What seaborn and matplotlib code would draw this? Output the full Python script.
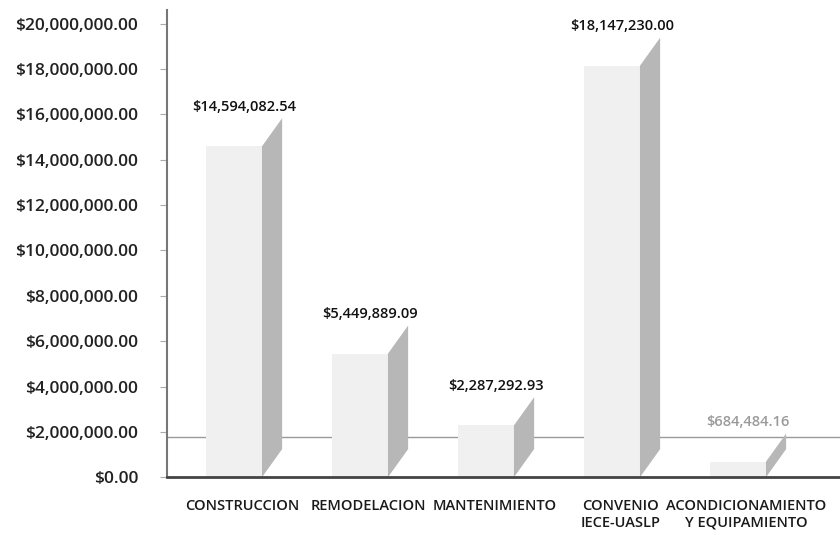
import pandas as pd
import matplotlib.pyplot as plt
import matplotlib.transforms as mtransforms
import seaborn as sns
from matplotlib.patches import Polygon
from matplotlib.ticker import FuncFormatter

# === Data ===
categories = ["CONSTRUCCION", "REMODELACION", "MANTENIMIENTO",
              "CONVENIO\nIECE-UASLP", "ACONDICIONAMIENTO\nY EQUIPAMIENTO"]
amounts = [14594082.54, 5449889.09, 2287292.93, 18147230.00, 684484.16]
amount_labels = ["$14,594,082.54", "$5,449,889.09", "$2,287,292.93",
                 "$18,147,230.00", "$684,484.16"]
label_colors = ["#111111", "#111111", "#111111", "#111111", "#9a9a9a"]
yticks = list(range(0, 20000001, 2000000))

df = pd.DataFrame({"categoria": categories, "monto": amounts})

# === Setup ===
sns.set_style("white")
plt.rcParams["font.family"] = ["Open Sans", "DejaVu Sans"]

fig = plt.figure(figsize=(8.4, 5.35), dpi=100)
ax = fig.add_axes([0.199, 0.108, 0.801, 0.873])

FRONT = "#f0f0f0"
SIDE = "#b7b7b7"
depth_x = 0.16        # fake 3D depth, category units
depth_y = 1.24e6      # fake 3D depth, value units

# back floor line
ax.axhline(1.77e6, color="#9a9a9a", lw=1.0, zorder=0)

sns.barplot(data=df, x="categoria", y="monto", color=FRONT, saturation=1,
            width=0.445, ax=ax, zorder=2, linewidth=0)

# side faces of the bars
for bar in ax.patches:
    x1 = bar.get_x() + bar.get_width()
    h = bar.get_height()
    side = Polygon([(x1, 0), (x1, h), (x1 + depth_x, h + depth_y),
                    (x1 + depth_x, depth_y)], closed=True,
                   facecolor=SIDE, edgecolor="none", zorder=2)
    ax.add_patch(side)

# value labels
for bar, txt, c in zip(list(ax.patches)[:len(amounts)], amount_labels, label_colors):
    xc = bar.get_x() + (bar.get_width() + depth_x) / 2
    ax.annotate(txt, (xc, bar.get_height() + depth_y), xytext=(0, 3),
                textcoords="offset points", ha="center", va="bottom",
                fontsize=10.5, fontweight="semibold", color=c)

ax.set_xlim(-0.53, 4.81)
ax.set_ylim(0, 20.6e6)
ax.set_yticks(yticks)
ax.yaxis.set_major_formatter(FuncFormatter(lambda v, p: f"${v:,.2f}"))
ax.set_xlabel("")
ax.set_ylabel("")

ax.tick_params(axis="y", length=5, color="#aaaaaa", pad=16, labelsize=12.5,
               labelcolor="#222222", left=True)
ax.tick_params(axis="x", length=0, pad=16, labelsize=10.5, labelcolor="#1a1a1a")
for lab in ax.get_yticklabels():
    lab.set_fontweight("semibold")

# category labels sit a bit to the right (middle of the 3D depth)
shift = mtransforms.ScaledTranslation(6 / 72, 0, fig.dpi_scale_trans)
for lab in ax.get_xticklabels():
    lab.set_fontweight("semibold")
    lab.set_transform(lab.get_transform() + shift)

sns.despine(ax=ax, top=True, right=True)
ax.spines["left"].set_color("#777777")
ax.spines["left"].set_linewidth(1.5)
ax.spines["bottom"].set_color("#444444")
ax.spines["bottom"].set_linewidth(2.0)

plt.savefig("out.png", dpi=100)
plt.close()
